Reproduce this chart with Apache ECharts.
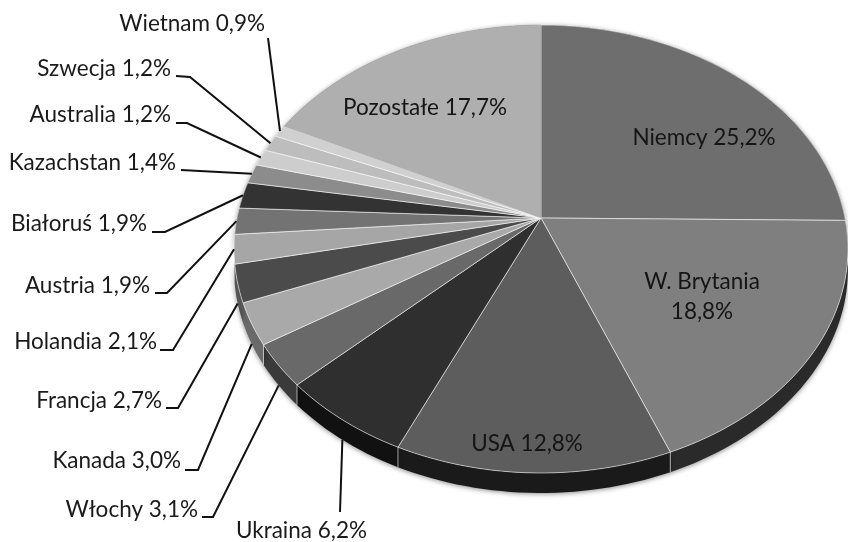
<!DOCTYPE html>
<html><head><meta charset="utf-8">
<style>html,body{margin:0;padding:0;background:#fff}#c{width:848px;height:542px}</style>
<script src="https://cdn.jsdelivr.net/npm/echarts@6/dist/echarts.min.js"></script>
</head><body><div id="c"></div>
<script>
const countries = ['Niemcy','W. Brytania','USA','Ukraina','Włochy','Kanada','Francja','Holandia','Austria','Białoruś','Kazachstan','Australia','Szwecja','Wietnam','Pozostałe'];
const shares = [25.2,18.8,12.8,6.2,3.1,3.0,2.7,2.1,1.9,1.9,1.4,1.2,1.2,0.9,17.7];
const faceColors = ['#6e6e6e','#7f7f7f','#5d5d5d','#2f2f2f','#696969','#a9a9a9','#4b4b4b','#a6a6a6','#737373','#333333','#8c8c8c','#cdcdcd','#bdbdbd','#d0d0d0','#afafaf'];
const sideColors = ['#333','#2a2a2a','#1a1a1a','#111','#3a3a3a','#6a6a6a','#555','#888','#555','#333','#555','#777','#777','#777','#777'];
// Label layout: [text right edge, text centre y, elbow x's] – positions only
const outside = {
  'Ukraina':[367,531,[[340,512]]],
  'Włochy':[198,510,[[202,517],[213,517]]],
  'Kanada':[181,461,[[185,470],[198,470]]],
  'Francja':[162,401,[[166,408],[178,408]]],
  'Holandia':[157,342,[[160,350],[173,350]]],
  'Austria':[150,286,[[155,293],[167,293]]],
  'Białoruś':[147,224,[[152,232],[165,232]]],
  'Kazachstan':[176,163,[[181,170]]],
  'Australia':[171,115,[[176,123],[187,123]]],
  'Szwecja':[171,69,[[176,76],[190,77]]],
  'Wietnam':[265,24,[[268,38]]]
};
const inside = {
  'Niemcy':[704,138],'W. Brytania':[702,297],'USA':[527,444],'Pozostałe':[425,108]
};
const FONT = 'Lato, "Open Sans", sans-serif';
const total = shares.reduce((a,b)=>a+b,0);
const starts = []; shares.reduce((a,b,i)=>(starts[i]=a,a+b),0);
// circle -> screen (perspective view of a round pie)
const CX=541, CY=218, RX=304, RY=219.7, K=0.1384, DEPTH=20;
function project(deg, r){
  const t=deg*Math.PI/180, u=r*Math.sin(t), v=r*Math.cos(t), d=1+K*v;
  return [CX+RX*u/d, CY-RY*v/d];
}
function angle(p){ return p/total*360; }
function arc(a0,a1){
  const n=Math.max(2,Math.ceil((a1-a0)/1.5)), pts=[];
  for(let i=0;i<=n;i++) pts.push(project(a0+(a1-a0)*i/n,1));
  return pts;
}
function fmt(v){ return v.toFixed(1).replace('.',',')+'%'; }

const data = shares.map((v,i)=>({name:countries[i],value:[v,i]}));

function renderSide(params,api){
  const i=api.value(1), a0=angle(starts[i]), a1=angle(starts[i]+shares[i]);
  const top=arc(a0,a1), low=top.map(p=>[p[0],p[1]+DEPTH]).reverse();
  const children=[{type:'polygon',shape:{points:top.concat(low)},
    style:{fill:sideColors[i],shadowBlur:5,shadowColor:'rgba(0,0,0,.45)',shadowOffsetY:1}}];
  if(a0>90&&a0<240){ const p=top[0];
    children.push({type:'line',shape:{x1:p[0],y1:p[1],x2:p[0],y2:p[1]+DEPTH},style:{stroke:'rgba(255,255,255,.6)',lineWidth:1}});}
  return {type:'group',children};
}
function renderFace(params,api){
  const i=api.value(1), a0=angle(starts[i]), a1=angle(starts[i]+shares[i]);
  const edge=arc(a0,a1);
  const light = a1>90 && a1<=300;
  const children=[{type:'polygon',shape:{points:[[CX,CY]].concat(edge)},
    style:{fill:faceColors[i],stroke:light?'rgba(255,255,255,.55)':faceColors[i],lineWidth:light?1:0.5,lineJoin:'round'}}];
  return {type:'group',children};
}
function renderLabel(params,api){
  const i=api.value(1), name=countries[i], mid=angle(starts[i]+shares[i]/2);
  const children=[];
  const base={fill:'#1a1a1a',fontSize:22.5,fontFamily:FONT};
  if(outside[name]){
    const [rx,cy,elbows]=outside[name];
    const p=project(mid,1);
    if(Math.cos(mid*Math.PI/180)<-0.2) p[1]+=DEPTH;
    children.push({type:'polyline',shape:{points:elbows.concat([p])},style:{fill:'none',stroke:'#111',lineWidth:2}});
    children.push({type:'text',style:Object.assign({},base,{text:name+' '+fmt(shares[i]),x:rx,y:cy,align:'right',verticalAlign:'middle'})});
  } else {
    const [x,y]=inside[name];
    const txt = name==='W. Brytania' ? name+'\n'+fmt(shares[i]) : name+' '+fmt(shares[i]);
    children.push({type:'text',style:Object.assign({},base,{text:txt,x,y,align:'center',verticalAlign:'middle',lineHeight:30,fill:'#151515'})});
  }
  return {type:'group',children};
}
const chart=echarts.init(document.getElementById('c'),null,{renderer:'canvas'});
chart.setOption({
  animation:false,backgroundColor:'#fff',
  series:[
    {type:'custom',coordinateSystem:'none',data,renderItem:renderSide,silent:true,z:1},
    {type:'custom',coordinateSystem:'none',data,renderItem:renderFace,silent:true,z:2},
    {type:'custom',coordinateSystem:'none',data,renderItem:renderLabel,silent:true,z:3}
  ]
});
</script></body></html>
